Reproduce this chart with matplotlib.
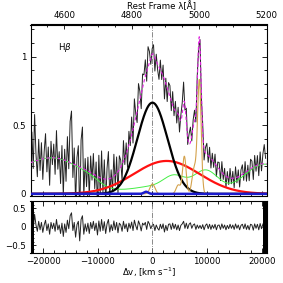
import numpy as np
import matplotlib
matplotlib.use('Agg')
import matplotlib.pyplot as plt
from matplotlib.ticker import MultipleLocator, FuncFormatter, FixedLocator

# ---------------- data ----------------
# spectrum velocity grid (km/s)
v_first, v_last, v_step = -22300, 20900, 250
velocity = np.arange(v_first, v_last + 1, v_step)

# broad Hbeta component 1 (black)
broad1 = dict(center=0.0, amp=0.665, sigma=2750.0)
# broad Hbeta component 2 (red)
broad2 = dict(center=2600.0, amp=0.24, sigma=6000.0)
# Fe II template (green), sum of lines
feii_centers = [-24000, -17500, -11500, -4000, 0, 4000, 9700, 19800, 24000]
feii_amps    = [0.10, 0.25, 0.04, 0.025, 0.035, 0.12, 0.17, 0.19, 0.06]
feii_sigmas  = [3000, 4500, 2000, 3500, 2500, 2000, 2300, 3500, 3000]
# narrow lines (orange): Hb narrow, [OIII] wings and cores
narrow_centers = [0, 4740, 5840, 7660, 8580]
narrow_amps    = [0.072, 0.065, 0.273, 0.188, 0.82]
narrow_sigmas  = [450, 400, 330, 400, 330]
# minor component (blue)
blue_centers = [-1170]
blue_amps    = [0.015]
blue_sigmas  = [400]

# residuals (data - model) on the velocity grid
residual = [
    0.10, 0.22, -0.05, 0.34, 0.05, -0.12,
    0.15, -0.08, 0.12, -0.15, 0.05, 0.18,
    -0.10, 0.08, -0.20, 0.12, -0.05, 0.10,
    -0.12, 0.20, -0.08, 0.05, -0.18, 0.10,
    -0.26, 0.08, -0.15, 0.18, -0.05, 0.30,
    0.38, -0.10, 0.12, -0.28, 0.06, 0.15,
    -0.38, 0.20, 0.30, -0.20, 0.08, -0.12,
    0.10, -0.18, 0.12, -0.05, 0.15, -0.10,
    0.10, -0.22, 0.16, -0.12, 0.20, -0.10,
    0.14, -0.18, 0.08, 0.20, -0.14, 0.06,
    -0.10, 0.16, -0.08, 0.12, -0.16, 0.10,
    0.05, -0.12, 0.15, -0.05, 0.08, -0.13,
    0.10, -0.04, 0.13, -0.10, 0.18, 0.03,
    -0.08, 0.16, 0.06, -0.11, 0.10, 0.05,
    0.12, -0.07, 0.15, 0.08, -0.05, 0.04,
    0.07, -0.10, 0.05, -0.04, -0.09, 0.07,
    -0.05, 0.08, -0.14, 0.04, -0.10, 0.07,
    0.08, -0.07, 0.10, -0.05, 0.07, -0.08,
    0.05, -0.10, 0.04, 0.08, 0.15, -0.04,
    0.10, -0.05, 0.07, 0.11, -0.04, 0.05,
    0.08, -0.07, 0.05, -0.04, 0.04, -0.05,
    0.06, -0.08, 0.04, 0.08, -0.05, 0.07,
    -0.07, 0.05, -0.04, 0.07, -0.08, 0.04,
    0.05, -0.07, 0.08, -0.04, 0.05, -0.08,
    0.04, -0.05, 0.07, -0.04, 0.05, -0.07,
    0.08, -0.04, 0.05, -0.08, 0.04, 0.07,
    -0.05, 0.08, -0.07, 0.04, -0.08, 0.07,
    0.05, -0.09, 0.08, -0.04, 0.07, -0.08,
    0.09, -0.05, 0.07, 0.14, 0.04,
]
residual = np.array(residual[:len(velocity)])

# masked edge ranges in residual panel
edge_ranges = [(-22300, -21700), (20250, 20900)]

# axis settings
xlim = (-22300, 20900)
lam_ticks = [4600, 4800, 5000, 5200]
lam0 = 4861.33
c_kms = 299792.458


def gauss(v, center, amp, sigma):
    return amp * np.exp(-0.5 * ((v - center) / sigma) ** 2)


def gsum(v, cs, as_, ss):
    out = np.zeros_like(v, dtype=float)
    for c, a, s in zip(cs, as_, ss):
        out += gauss(v, c, a, s)
    return out


def model_parts(v):
    b1 = gauss(v, **broad1)
    b2 = gauss(v, **broad2)
    fe = gsum(v, feii_centers, feii_amps, feii_sigmas)
    na = gsum(v, narrow_centers, narrow_amps, narrow_sigmas)
    bl = gsum(v, blue_centers, blue_amps, blue_sigmas)
    return b1, b2, fe, na, bl


vf = np.linspace(xlim[0], xlim[1], 3000)
b1, b2, fe, na, bl = model_parts(vf)
total = b1 + b2 + fe + na + bl
flux = sum(model_parts(velocity.astype(float))) + residual

# ---------------- figure ----------------
plt.rcParams['font.family'] = ['DejaVu Sans']
plt.rcParams['axes.unicode_minus'] = True
fs = 6.2
fig = plt.figure(figsize=(2.83, 2.83), dpi=100)
L, R = 30.5 / 283, 266.7 / 283
ax1 = fig.add_axes([L, 1 - 195.5 / 283, R - L, (195.5 - 24.5) / 283])
ax2 = fig.add_axes([L, 1 - 252.7 / 283, R - L, (252.7 - 201) / 283])


def fmt(x, pos):
    s = '%g' % round(x, 3)
    return s.replace('-', '\u2212')


ax1.plot(velocity, flux, color='#222222', lw=0.7, zorder=2)
ax1.plot(vf, fe, color='#44ee44', lw=0.7, zorder=3)
ax1.plot(vf, b2, color='#ff1111', lw=1.6, zorder=4)
ax1.plot(vf, b1, color='black', lw=1.6, zorder=4)
ax1.plot(vf, na, color='#d4a24c', lw=0.8, zorder=5)
ax1.plot(vf, bl, color='#1a1acc', lw=1.8, zorder=6)
ax1.plot(vf, total, color='#e020e0', lw=0.8, ls=(0, (3, 2)), zorder=7)
ax1.axvline(0, color='#777777', lw=0.6, ls='-.', zorder=1)
ax1.set_xlim(*xlim)
ax1.set_ylim(-0.012, 1.235)
ax1.text(0.116, 0.864, r'H$\beta$', transform=ax1.transAxes, fontsize=fs,
         ha='left', va='center')

ax2.plot(velocity, residual, color='#222222', lw=0.7)
ax2.axvline(0, color='#777777', lw=0.6, ls='-.')
for a, b in edge_ranges:
    ax2.axvspan(a, b, color='black', lw=0, zorder=5)
ax2.set_xlim(*xlim)
ax2.set_ylim(-0.7, 0.7)

for ax in (ax1, ax2):
    ax.xaxis.set_major_locator(MultipleLocator(10000))
    ax.xaxis.set_minor_locator(MultipleLocator(2000))
    ax.tick_params(which='both', direction='in', labelsize=fs, width=0.6,
                   left=True, right=True, bottom=True, pad=3)
    ax.tick_params(which='major', length=3.5)
    ax.tick_params(which='minor', length=2)
    ax.yaxis.set_major_formatter(FuncFormatter(fmt))
    ax.xaxis.set_major_formatter(FuncFormatter(fmt))
    for sp in ax.spines.values():
        sp.set_linewidth(0.8)

ax1.yaxis.set_major_locator(MultipleLocator(0.5))
ax1.yaxis.set_minor_locator(MultipleLocator(0.1))
ax1.tick_params(labelbottom=False, top=False)
ax2.yaxis.set_major_locator(MultipleLocator(0.5))
ax2.yaxis.set_minor_locator(MultipleLocator(0.1))
ax2.tick_params(which='both', top=True)

sec = ax1.secondary_xaxis('top', functions=(lambda v: lam0 * (1 + v / c_kms),
                                            lambda l: (l / lam0 - 1) * c_kms))
sec.xaxis.set_major_locator(FixedLocator(lam_ticks))
sec.xaxis.set_minor_locator(FixedLocator(list(range(4550, 5201, 50))))
sec.tick_params(which='both', direction='in', labelsize=fs, width=0.6, pad=3)
sec.tick_params(which='major', length=3.5)
sec.tick_params(which='minor', length=2)
sec.xaxis.set_major_formatter(FuncFormatter(fmt))

fig.text(161.5 / 283, 1 - 6.5 / 283, 'Rest Frame λ[Å]', fontsize=fs,
         ha='center', va='center')
fig.text(149.5 / 283, 1 - 272 / 283, 'Δv, [km s$^{-1}$]', fontsize=fs,
         ha='center', va='center')

fig.savefig('out.png', dpi=100)
